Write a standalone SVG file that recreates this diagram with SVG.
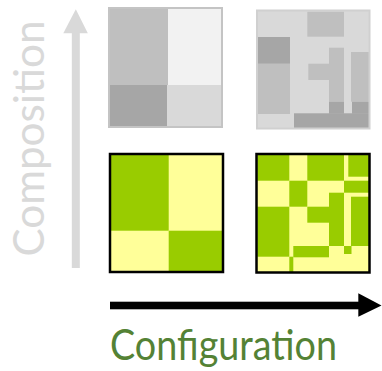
<svg xmlns="http://www.w3.org/2000/svg" width="382" height="371" viewBox="0 0 382 371">
<style>
.g1{fill:#bfbfbf}.g2{fill:#f2f2f2}.g3{fill:#a6a6a6}.g4{fill:#d9d9d9}
.gr{fill:#99cc00}.ye{fill:#ffff99}
.lbl{font-family:Lato,"Open Sans","Liberation Sans",sans-serif;font-size:42px}
</style>
<rect width="382" height="371" fill="#ffffff"/>
<g id="composition-coarse">
<rect x="109" y="8" width="113" height="119" class="g1"/>
<rect x="168" y="9" width="53" height="76" class="g2"/>
<rect x="110" y="85" width="57" height="41" class="g3"/>
<rect x="167" y="85" width="54" height="41" class="g4"/>
<rect x="109" y="8" width="113" height="119" fill="none" stroke="#c4c4c4" stroke-width="2"/>
</g>
<g id="composition-fine">
<rect x="257" y="10.5" width="112.5" height="118" class="g4"/>
<rect x="307.3" y="11.7" width="36.7" height="25" class="g1"/>
<rect x="258" y="63.7" width="32" height="50.3" class="g1"/>
<rect x="308.3" y="63.7" width="20.7" height="16.3" class="g1"/>
<rect x="329" y="47.7" width="15" height="54" class="g1"/>
<rect x="351" y="52" width="18" height="49.7" class="g1"/>
<rect x="258" y="37" width="32" height="26.7" class="g3"/>
<rect x="294" y="113.3" width="75" height="14.7" class="g3"/>
<rect x="329" y="101.7" width="15" height="12" class="g3"/>
<rect x="352" y="101.7" width="17" height="12" class="g3"/>
<rect x="257" y="10.5" width="112.5" height="118" fill="none" stroke="#d0d0d0" stroke-width="2"/>
</g>
<g id="configuration-coarse">
<rect x="110" y="154" width="113" height="118" class="ye"/>
<rect x="110" y="154" width="58.7" height="76.7" class="gr"/>
<rect x="168.7" y="230.7" width="54.3" height="41.3" class="gr"/>
<rect x="110" y="154" width="113" height="118" fill="none" stroke="#000000" stroke-width="2.5"/>
</g>
<g id="configuration-fine">
<rect x="256.5" y="154" width="113" height="118.5" class="ye"/>
<rect x="257.3" y="154.3" width="32" height="26.4" class="gr"/>
<rect x="307.3" y="154.3" width="36.7" height="26.4" class="gr"/>
<rect x="348.3" y="154.3" width="20.7" height="22.4" class="gr"/>
<rect x="344" y="180.7" width="25" height="12" class="gr"/>
<rect x="289.3" y="180.7" width="18" height="26" class="gr"/>
<rect x="329" y="192.7" width="15" height="53.3" class="gr"/>
<rect x="351" y="196.7" width="18" height="49.3" class="gr"/>
<rect x="257.3" y="206.7" width="32" height="50" class="gr"/>
<rect x="307.3" y="206.7" width="21.7" height="16" class="gr"/>
<rect x="293.3" y="246" width="35.7" height="11.3" class="gr"/>
<rect x="344" y="246" width="7.5" height="8" class="gr"/>
<rect x="289.3" y="256.7" width="4" height="15.8" class="gr"/>
<rect x="256.5" y="154" width="113" height="118.5" fill="none" stroke="#000000" stroke-width="2.5"/>
</g>
<g id="connectors">
<g id="composition-axis">
<rect x="71.8" y="32" width="8" height="236" fill="#d9d9d9"/>
<polygon points="63.3,33.3 75.8,9.3 87.8,33.3" fill="#d9d9d9"/>
</g>
<g id="configuration-axis">
<rect x="110" y="301.7" width="250" height="7.6" fill="#000000"/>
<polygon points="358.3,293.3 381.5,305.5 358.3,316.7" fill="#000000"/>
</g>
</g>
<g id="labels">
<text class="lbl" fill="#d9d9d9" transform="translate(43.5,256.5) rotate(-90)" x="0" y="0" textLength="236" lengthAdjust="spacingAndGlyphs">Composition</text>
<text class="lbl" fill="#548235" x="110" y="360" textLength="227" lengthAdjust="spacingAndGlyphs">Configuration</text>
</g>
</svg>
